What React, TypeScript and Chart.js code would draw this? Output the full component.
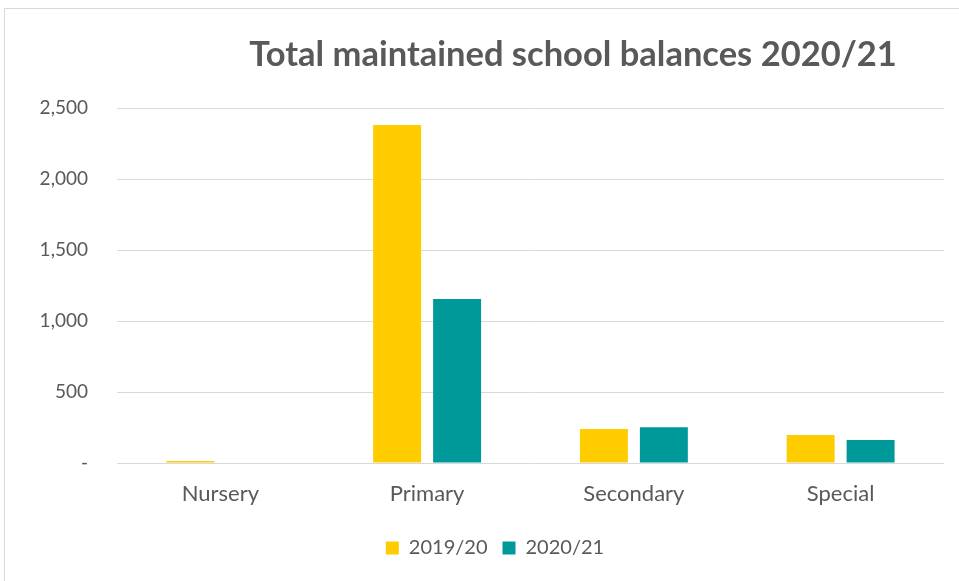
import React, { useEffect, useRef } from "react";
import { Chart, registerables } from "chart.js";

Chart.register(...registerables);

const titleText = "Total maintained school balances 2020/21";
const categories = ["Nursery", "Primary", "Secondary", "Special"];
const seriesLabels = ["2019/20", "2020/21"];
const values2019 = [14, 2380, 239, 197];
const values2020 = [0, 1155, 251, 162];
const yTicks = [0, 500, 1000, 1500, 2000, 2500];

const FONT = "Lato, 'Open Sans', sans-serif";
const TEXT = "#595959";

const titlePlugin = {
  id: "customTitle",
  afterDraw(chart: any) {
    const ctx = chart.ctx;
    ctx.save();
    ctx.font = `bold 34.5px ${FONT}`;
    ctx.fillStyle = TEXT;
    ctx.textAlign = "center";
    ctx.textBaseline = "middle";
    ctx.fillText(titleText, 573, 55);
    ctx.restore();
  },
};

const legendShift = {
  id: "legendShift",
  afterLayout(chart: any) {
    if (chart.legend) {
      chart.legend.left += 23;
      chart.legend.right += 23;
    }
  },
};

export default function App() {
  const ref = useRef<HTMLCanvasElement | null>(null);

  useEffect(() => {
    if (!ref.current) return;
    const chart = new Chart(ref.current, {
      type: "bar",
      data: {
        labels: categories,
        datasets: [
          {
            label: seriesLabels[0],
            data: values2019,
            backgroundColor: "#FFCC00",
            borderWidth: 0,
            categoryPercentage: 0.58,
            barPercentage: 0.8,
          },
          {
            label: seriesLabels[1],
            data: values2020,
            backgroundColor: "#009999",
            borderWidth: 0,
            categoryPercentage: 0.58,
            barPercentage: 0.8,
          },
        ],
      },
      options: {
        responsive: false,
        animation: false,
        layout: { padding: { left: 0, right: 15, top: 108, bottom: 13 } },
        plugins: {
          title: { display: false },
          tooltip: { enabled: false },
          legend: {
            position: "bottom",
            labels: {
              boxWidth: 13,
              boxHeight: 13,
              padding: 15,
              color: TEXT,
              font: { family: FONT, size: 20 },
            },
          },
        },
        scales: {
          x: {
            grid: { display: false },
            border: { display: false },
            ticks: {
              color: TEXT,
              font: { family: FONT, size: 22 },
              padding: 10,
            },
            afterFit(scale: any) {
              scale.height = 60;
            },
          },
          y: {
            min: 0,
            max: 2500,
            border: { display: false },
            grid: { color: "#d9d9d9", lineWidth: 1, drawTicks: false },
            afterBuildTicks(scale: any) {
              scale.ticks = yTicks.map((v) => ({ value: v }));
            },
            ticks: {
              color: TEXT,
              font: { family: FONT, size: 19 },
              padding: 29,
              callback: (v: any) =>
                Number(v) === 0 ? "-" : Number(v).toLocaleString("en-US"),
            },
            afterFit(scale: any) {
              scale.width = 117;
            },
          },
        },
      },
      plugins: [titlePlugin, legendShift],
    });
    return () => chart.destroy();
  }, []);

  return (
    <div
      style={{
        position: "absolute",
        left: 0,
        top: 0,
        width: 959,
        height: 581,
        background: "#fff",
        overflow: "hidden",
      }}
    >
      <div
        style={{
          position: "absolute",
          left: 4,
          top: 8,
          width: 970,
          height: 590,
          border: "1px solid #d9d9d9",
          boxSizing: "border-box",
        }}
      />
      <canvas
        ref={ref}
        width={959}
        height={581}
        style={{ position: "absolute", left: 0, top: 0 }}
      />
    </div>
  );
}
